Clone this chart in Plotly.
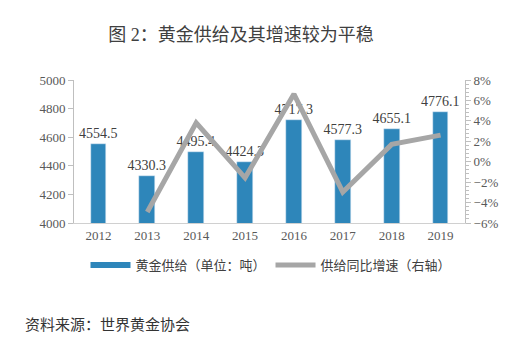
import plotly.graph_objects as go

years = ["2012", "2013", "2014", "2015", "2016", "2017", "2018", "2019"]
supply = [4554.5, 4330.3, 4495.4, 4424.3, 4717.3, 4577.3, 4655.1, 4776.1]
growth = [None, -4.92, 3.81, -1.58, 6.62, -2.97, 1.70, 2.60]
bar_name = "黄金供给（单位：吨）"
line_name = "供给同比增速（右轴）"
title_text = "图 2：黄金供给及其增速较为平稳"
source_text = "资料来源：世界黄金协会"

BLUE = "#2E86BA"
GRAY = "#A6A6A6"
FONT = "Liberation Serif, Noto Sans CJK SC"
W, H = 519, 341
L, R, T, B = 73.5, 465.5, 80, 223

fig = go.Figure()
fig.add_trace(go.Bar(
    x=years, y=supply, marker_color=BLUE, width=0.32, showlegend=False,
    text=[f"{v:.1f}" for v in supply], textposition="outside", constraintext="none",
    textfont=dict(size=14, color="#404040", family=FONT), cliponaxis=False,
))
fig.add_trace(go.Scatter(
    x=years, y=growth, yaxis="y2", mode="lines",
    line=dict(color=GRAY, width=5), showlegend=False,
))
# legend entries
fig.add_trace(go.Scatter(x=[None], y=[None], mode="lines", name=bar_name,
                         line=dict(color=BLUE, width=6)))
fig.add_trace(go.Scatter(x=[None], y=[None], mode="lines", name=line_name,
                         line=dict(color=GRAY, width=5), yaxis="y2"))

fig.update_layout(
    width=W, height=H,
    margin=dict(l=L, r=W - R, t=T, b=H - B, pad=0),
    paper_bgcolor="white", plot_bgcolor="white",
    font=dict(family=FONT, size=12, color="#595959"),
    bargap=0,
    title=dict(text=title_text, x=241 / W, xanchor="center", y=1 - 35 / H, yanchor="middle",
               font=dict(size=18, color="#404040", family=FONT)),
    xaxis=dict(showline=True, linecolor="#D0D0D0", linewidth=1, ticks="",
               tickfont=dict(size=13, color="#595959"), showgrid=False),
    yaxis=dict(range=[4000, 5000], dtick=200, showline=True, linecolor="#BFBFBF",
               ticks="outside", ticklen=5, tickcolor="#BFBFBF", showgrid=False,
               tickfont=dict(size=13, color="#595959"), zeroline=False),
    yaxis2=dict(range=[-6, 8], dtick=2, overlaying="y", side="right", showline=True,
                linecolor="#BFBFBF", ticks="outside", ticklen=5, tickcolor="#BFBFBF",
                ticksuffix="%", showgrid=False, zeroline=False,
                tickfont=dict(size=13, color="#595959"),
                minor=dict(dtick=0.4, ticks="outside", ticklen=3, tickcolor="#BFBFBF")),
    legend=dict(orientation="h", x=(271 - L) / (R - L), xanchor="center",
                y=(B - 265) / (B - T), yanchor="middle",
                font=dict(size=13, color="#404040", family=FONT),
                itemwidth=40, entrywidthmode="pixels", traceorder="normal"),
    annotations=[dict(text=source_text, xref="paper", yref="paper",
                      x=(22 - L) / (R - L), y=(B - 325) / (B - T),
                      xanchor="left", yanchor="middle", showarrow=False,
                      font=dict(size=15, color="#333333", family=FONT))],
)

fig.write_html("out.html")
